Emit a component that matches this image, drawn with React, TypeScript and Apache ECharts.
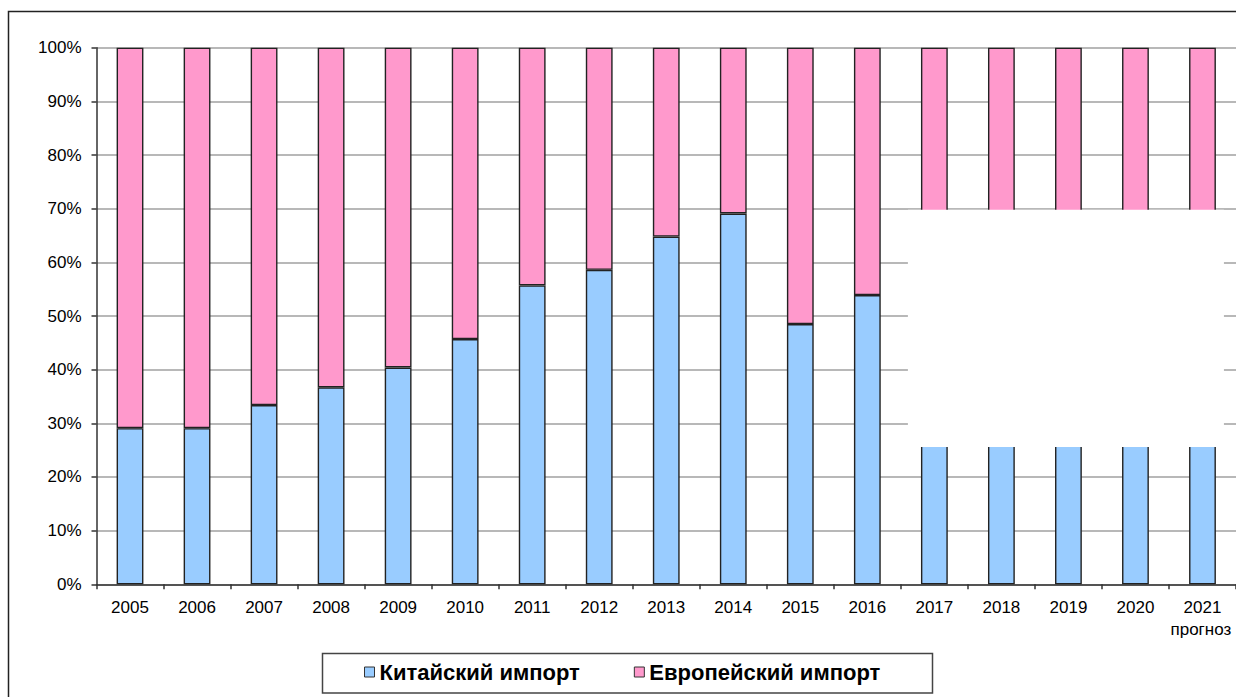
import React, { useEffect, useRef } from "react";
import * as echarts from "echarts";

const years = ["2005", "2006", "2007", "2008", "2009", "2010", "2011", "2012", "2013", "2014", "2015", "2016", "2017", "2018", "2019", "2020", "2021"];
const chinaShare = [29.1, 29.1, 33.4, 36.7, 40.4, 45.7, 55.7, 58.6, 64.8, 69.1, 48.5, 53.9, 50, 50, 50, 50, 50];
const europeShare = [70.9, 70.9, 66.6, 63.3, 59.6, 54.3, 44.3, 41.4, 35.2, 30.9, 51.5, 46.1, 50, 50, 50, 50, 50];
const seriesNames = ["Китайский импорт", "Европейский импорт"];
const hiddenYears = ["2017", "2021"];
const hiddenRange = [25.6, 69.8];
const forecastNote = "прогноз";

const FONT = "Liberation Sans, Arial, sans-serif";

export default function App() {
  const ref = useRef<HTMLDivElement>(null);
  useEffect(() => {
    if (!ref.current) return;
    const chart = echarts.init(ref.current, null, { renderer: "svg" });
    chart.setOption({
      animation: false,
      backgroundColor: "#fff",
      grid: { left: 96.5, right: 0, top: 47.7, bottom: 112.7, containLabel: false },
      legend: {
        data: seriesNames,
        left: 364,
        top: 661,
        icon: "rect",
        itemWidth: 10,
        itemHeight: 10,
        itemGap: 54,
        padding: 0,
        itemStyle: { borderColor: "#333", borderWidth: 1 },
        textStyle: { fontSize: 22, fontWeight: "bold", fontFamily: FONT, color: "#000", padding: [0, 0, 0, 0] },
      },
      xAxis: {
        type: "category",
        data: years,
        boundaryGap: true,
        axisLine: { lineStyle: { color: "#333", width: 1.5 } },
        axisTick: { show: true, length: 5, lineStyle: { color: "#333", width: 1.5 } },
        axisLabel: { fontSize: 17, color: "#000", margin: 15, fontFamily: FONT },
        splitLine: { show: false },
      },
      yAxis: {
        type: "value",
        min: 0,
        max: 100,
        interval: 10,
        axisLine: { show: true, lineStyle: { color: "#333", width: 1.5 } },
        axisTick: { show: true, length: 5, lineStyle: { color: "#333", width: 1.5 } },
        axisLabel: { formatter: "{value}%", fontSize: 17, color: "#000", margin: 15, fontFamily: FONT },
        splitLine: { show: true, lineStyle: { color: "#a0a0a0", width: 1.5 } },
      },
      series: [
        {
          name: seriesNames[0],
          type: "bar",
          stack: "total",
          barWidth: "40%",
          data: chinaShare,
          itemStyle: { color: "#99CCFF", borderColor: "#222", borderWidth: 1.4 },
        },
        {
          name: seriesNames[1],
          type: "bar",
          stack: "total",
          barWidth: "40%",
          data: europeShare,
          itemStyle: { color: "#FF99CC", borderColor: "#222", borderWidth: 1.4 },
        },
      ],
    });

    const c0 = chart.convertToPixel({ xAxisIndex: 0 }, hiddenYears[0]) as number;
    const c1 = chart.convertToPixel({ xAxisIndex: 0 }, hiddenYears[1]) as number;
    const cNext = chart.convertToPixel({ xAxisIndex: 0 }, years[years.indexOf(hiddenYears[0]) + 1]) as number;
    const band = cNext - c0;
    const x0 = c0 - 0.395 * band;
    const x1 = c1 + 0.32 * band;
    const yTop = chart.convertToPixel({ yAxisIndex: 0 }, hiddenRange[1]) as number;
    const yBot = chart.convertToPixel({ yAxisIndex: 0 }, hiddenRange[0]) as number;

    chart.setOption({
      graphic: [
        {
          id: "mask",
          type: "rect",
          z: 50,
          shape: { x: x0, y: yTop, width: x1 - x0, height: yBot - yTop },
          style: { fill: "#fff" },
        },
        {
          id: "frame",
          type: "rect",
          z: 60,
          shape: { x: 8.5, y: 11.5, width: 1400, height: 900 },
          style: { fill: "none", stroke: "#222", lineWidth: 1.5 },
        },
        {
          id: "legendBox",
          type: "rect",
          z: 60,
          shape: { x: 322.5, y: 653.5, width: 610, height: 39.5 },
          style: { fill: "none", stroke: "#444", lineWidth: 1.5 },
        },
        {
          id: "note",
          type: "text",
          z: 60,
          x: c1 - 32,
          y: 621,
          style: { text: forecastNote, fontSize: 17, fontFamily: FONT, fill: "#000", verticalAlign: "top", align: "left" },
        },
      ],
    });

    return () => chart.dispose();
  }, []);
  return <div ref={ref} style={{ position: "fixed", left: 0, top: 0, width: 1236, height: 697 }} />;
}
